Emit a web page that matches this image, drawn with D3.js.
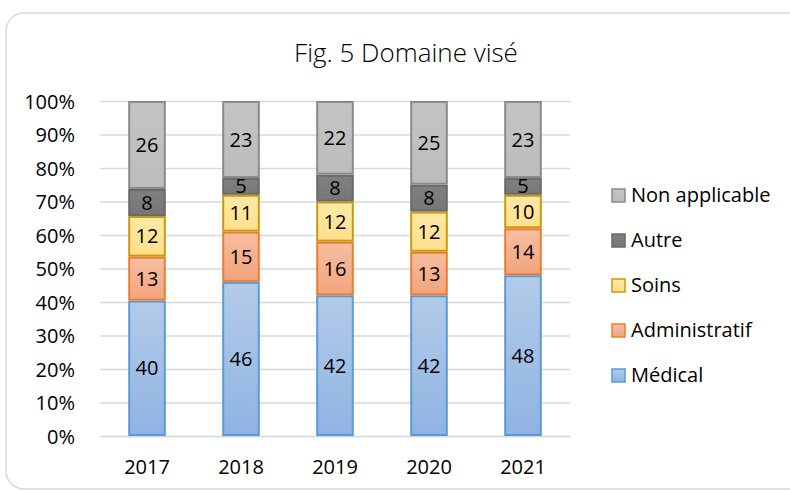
<!DOCTYPE html>
<html>
<head>
<meta charset="utf-8">
<script src="https://cdn.jsdelivr.net/npm/d3@7"></script>
<style>
  body { margin: 0; background: #fff; }
  text { font-family: "Open Sans", "Noto Sans", sans-serif; fill: #000; }
</style>
</head>
<body>
<div id="chart-wrapper"></div>
<script>
// data
var years = ["2017", "2018", "2019", "2020", "2021"];
var series = ["Médical", "Administratif", "Soins", "Autre", "Non applicable"];
var medical = [40, 46, 42, 42, 48];
var administratif = [13, 15, 16, 13, 14];
var soins = [12, 11, 12, 12, 10];
var autre = [8, 5, 8, 8, 5];
var nonApplicable = [26, 23, 22, 25, 23];
var yTicks = [0, 0.1, 0.2, 0.3, 0.4, 0.5, 0.6, 0.7, 0.8, 0.9, 1];

var styles = {
  "Médical": {top: "#b3cbe9", bottom: "#8fb3e2", stroke: "#5b9bd5"},
  "Administratif": {top: "#f6bea0", bottom: "#f2a47d", stroke: "#ed7d31"},
  "Soins": {top: "#ffe9a6", bottom: "#ffe08c", stroke: "#c99a0e"},
  "Autre": {top: "#808080", bottom: "#777777", stroke: "#6a6a6a"},
  "Non applicable": {top: "#c4c4c4", bottom: "#bcbcbc", stroke: "#8a8a8a"}
};

var table = years.map(function (y, i) {
  return {
    year: y,
    "Médical": medical[i],
    "Administratif": administratif[i],
    "Soins": soins[i],
    "Autre": autre[i],
    "Non applicable": nonApplicable[i]
  };
});

var W = 790, H = 490;
var margin = {top: 101, left: 100, right: 220, bottom: 54};
var width = W - margin.left - margin.right,
    height = H - margin.top - margin.bottom;

var svgRoot = d3.select("#chart-wrapper")
  .append("svg")
    .attr("width", W)
    .attr("height", H);

// gradients for the bars
var defs = svgRoot.append("defs");
series.forEach(function (s, i) {
  var g = defs.append("linearGradient")
    .attr("id", "grad" + i)
    .attr("x1", 0).attr("y1", 0).attr("x2", 0).attr("y2", 1);
  g.append("stop").attr("offset", "0%").attr("stop-color", styles[s].top);
  g.append("stop").attr("offset", "100%").attr("stop-color", styles[s].bottom);
});

// outer frame
svgRoot.append("rect")
  .attr("x", 6).attr("y", 13)
  .attr("width", 800).attr("height", 476)
  .attr("rx", 18)
  .attr("fill", "#fff")
  .attr("stroke", "#d9d9d9")
  .attr("stroke-width", 1.5);

svgRoot.append("text")
  .attr("x", 406)
  .attr("y", 62)
  .attr("text-anchor", "middle")
  .style("font-size", "26px")
  .style("font-weight", 300)
  .text("Fig. 5 Domaine visé");

var svg = svgRoot.append("g")
  .attr("transform", `translate(${margin.left},${margin.top})`);

var x = d3.scaleBand()
  .domain(years)
  .range([0, width])
  .paddingInner(0.6)
  .paddingOuter(0.3);

var y = d3.scaleLinear()
  .domain([0, 1])
  .range([height, 0]);

// grid + y axis
var yAxis = svg.append("g")
  .call(d3.axisLeft(y).tickValues(yTicks).tickFormat(d3.format(".0%")).tickSize(-width).tickPadding(25));
yAxis.select(".domain").remove();
yAxis.selectAll(".tick line").attr("stroke", "#d9d9d9").attr("stroke-width", 1.5);
yAxis.selectAll(".tick text").style("font-size", "20px").attr("dy", "0.35em");

// x axis
var xAxis = svg.append("g")
  .attr("transform", `translate(0,${height})`)
  .call(d3.axisBottom(x).tickSize(0).tickPadding(24));
xAxis.select(".domain").attr("stroke", "#d9d9d9").attr("stroke-width", 1.5);
xAxis.selectAll(".tick text").style("font-size", "20px");

// stacked, normalised to 100%
var stacked = d3.stack()
  .keys(series)
  .offset(d3.stackOffsetExpand)(table);

var layers = svg.selectAll(".layer")
  .data(stacked)
  .enter()
  .append("g")
    .attr("class", "layer");

layers.selectAll("rect")
  .data(function (d) { return d.map(function (p) { return {key: d.key, idx: d.index, p: p}; }); })
  .enter()
  .append("rect")
    .attr("x", function (d) { return x(d.p.data.year) + 1; })
    .attr("y", function (d) { return y(d.p[1]) + 1; })
    .attr("width", x.bandwidth() - 2)
    .attr("height", function (d) { return y(d.p[0]) - y(d.p[1]) - 2; })
    .attr("fill", function (d) { return "url(#grad" + d.idx + ")"; })
    .attr("stroke", function (d) { return styles[d.key].stroke; })
    .attr("stroke-width", 2);

layers.selectAll("text")
  .data(function (d) { return d.map(function (p) { return {key: d.key, p: p}; }); })
  .enter()
  .append("text")
    .attr("x", function (d) { return x(d.p.data.year) + x.bandwidth() / 2; })
    .attr("y", function (d) { return (y(d.p[0]) + y(d.p[1])) / 2; })
    .attr("text-anchor", "middle")
    .attr("dy", "0.35em")
    .style("font-size", "20px")
    .text(function (d) { return d.p.data[d.key]; });

// legend, top item is last series
var legend = svgRoot.append("g")
  .attr("transform", "translate(611,195)");

var items = legend.selectAll("g")
  .data(series.slice().reverse())
  .enter()
  .append("g")
    .attr("transform", function (d, i) { return `translate(0,${i * 45})`; });

items.append("rect")
  .attr("x", 1).attr("y", -6)
  .attr("width", 13).attr("height", 13)
  .attr("fill", function (d) { return "url(#grad" + series.indexOf(d) + ")"; })
  .attr("stroke", function (d) { return styles[d].stroke; })
  .attr("stroke-width", 1.5);

items.append("text")
  .attr("x", 20)
  .attr("dy", "0.35em")
  .style("font-size", "20px")
  .text(function (d) { return d; });
</script>
</body>
</html>
